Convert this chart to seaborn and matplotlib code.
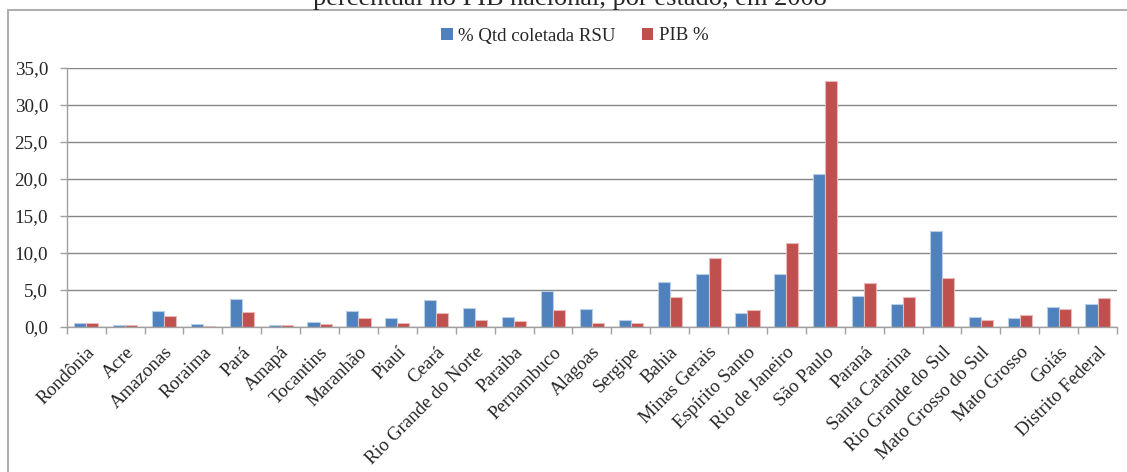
import matplotlib
matplotlib.use("Agg")
import matplotlib.pyplot as plt
from matplotlib.patches import Rectangle
from matplotlib.ticker import FuncFormatter, FixedLocator
import seaborn as sns
import pandas as pd

estados = ["Rondônia", "Acre", "Amazonas", "Roraima", "Pará", "Amapá", "Tocantins",
           "Maranhão", "Piauí", "Ceará", "Rio Grande do Norte", "Paraiba", "Pernambuco",
           "Alagoas", "Sergipe", "Bahia", "Minas Gerais", "Espírito Santo",
           "Rio de Janeiro", "São Paulo", "Paraná", "Santa Catarina",
           "Rio Grande do Sul", "Mato Grosso do Sul", "Mato Grosso", "Goiás",
           "Distrito Federal"]
rsu_pct = [0.5, 0.25, 2.1, 0.4, 3.8, 0.25, 0.65, 2.1, 1.2, 3.7, 2.6, 1.4, 4.9,
           2.4, 0.9, 6.1, 7.2, 1.9, 7.2, 20.6, 4.2, 3.1, 12.9, 1.4, 1.2, 2.7, 3.1]
pib_pct = [0.5, 0.25, 1.5, 0.1, 2.0, 0.25, 0.4, 1.2, 0.5, 1.9, 0.9, 0.85, 2.3,
           0.5, 0.5, 4.0, 9.3, 2.3, 11.3, 33.2, 5.9, 4.0, 6.6, 1.0, 1.6, 2.4, 3.9]
series = ["% Qtd coletada RSU", "PIB %"]
yticks = [0, 5, 10, 15, 20, 25, 30, 35]

df = pd.DataFrame({
    "estado": estados * 2,
    "valor": rsu_pct + pib_pct,
    "serie": [series[0]] * len(estados) + [series[1]] * len(estados),
})

sns.set_style("white")
plt.rcParams["font.family"] = ["Liberation Serif", "DejaVu Serif"]

W, H = 1127, 472
fig = plt.figure(figsize=(W / 100, H / 100), dpi=100)
ax = fig.add_axes([66.7 / W, 1 - 327 / H, (1117 - 66.7) / W, (327 - 67.7) / H])

colors = {series[0]: "#4F81BD", series[1]: "#C0504D"}
sns.barplot(data=df, x="estado", y="valor", hue="serie", palette=colors,
            width=0.62, ax=ax, legend=False, saturation=1)
for bar_container, edge in zip(ax.containers, ["#B9CDE5", "#E6B9B8"]):
    for p in bar_container:
        p.set_edgecolor(edge)
        p.set_linewidth(0.8)

ax.set_ylim(0, 35)
ax.set_xlim(-0.5, len(estados) - 0.5)
ax.yaxis.set_major_locator(FixedLocator(yticks))
ax.yaxis.set_major_formatter(FuncFormatter(lambda v, _: f"{v:.1f}".replace(".", ",")))
ax.grid(axis="y", color="#868686", linewidth=1.0)
ax.set_axisbelow(True)
ax.set_xlabel("")
ax.set_ylabel("")

for side in ["top", "right"]:
    ax.spines[side].set_visible(False)
for side in ["left", "bottom"]:
    ax.spines[side].set_color("#A0A0A0")
    ax.spines[side].set_linewidth(1.0)

# category boundaries carry the x tick marks; labels sit at the centres
ax.set_xticks([i - 0.5 for i in range(len(estados) + 1)], minor=False)
ax.set_xticklabels([])
ax.set_xticks(range(len(estados)), minor=True)
ax.set_xticklabels(estados, minor=True, rotation=45, ha="right",
                   rotation_mode="anchor", fontsize=13.6)
ax.tick_params(axis="x", which="major", direction="out", length=5,
               color="#A0A0A0", width=1.0, bottom=True)
ax.tick_params(axis="x", which="minor", length=0, pad=12)
ax.tick_params(axis="y", direction="out", length=5, color="#A0A0A0",
               width=1.0, left=True, labelsize=13.8, pad=8.5)

handles = [Rectangle((0, 0), 1, 1, facecolor=colors[s], edgecolor="none") for s in series]
fig.legend(handles, series, loc="center", bbox_to_anchor=(575 / W, 1 - 36 / H),
           ncol=2, frameon=False, fontsize=13.6, handlelength=0.6, handleheight=0.6,
           handletextpad=0.3, columnspacing=1.4)

fig.text(570 / W, 1 - 5 / H, "percentual no PIB nacional, por estado, em 2008",
         ha="center", va="baseline", fontsize=19)

fig.patches.append(Rectangle((8 / W, -0.05), 1.3, 1 - 10 / H + 0.05,
                             transform=fig.transFigure, fill=False,
                             edgecolor="#B0B0B0", linewidth=1.5))

fig.savefig("out.png", dpi=100)
